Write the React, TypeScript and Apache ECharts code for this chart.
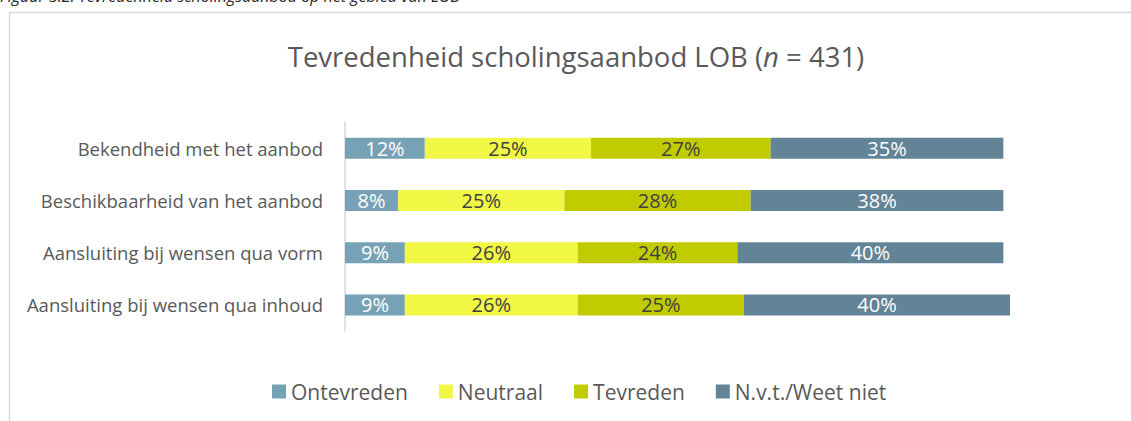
import React, { useEffect, useRef } from "react";
import * as echarts from "echarts";

const categories = [
  "Bekendheid met het aanbod",
  "Beschikbaarheid van het aanbod",
  "Aansluiting bij wensen qua vorm",
  "Aansluiting bij wensen qua inhoud",
];
const seriesNames = ["Ontevreden", "Neutraal", "Tevreden", "N.v.t./Weet niet"];
const ontevreden = [12, 8, 9, 9];
const neutraal = [25, 25, 26, 26];
const tevreden = [27, 28, 24, 25];
const nvt = [35, 38, 40, 40];
const seriesValues = [ontevreden, neutraal, tevreden, nvt];
const seriesColors = ["#77A2B5", "#F0F845", "#C1CC00", "#638497"];
const labelColors = ["#ffffff", "#404040", "#404040", "#ffffff"];

const FONT = "'Open Sans', 'Noto Sans', sans-serif";

export default function App() {
  const ref = useRef<HTMLDivElement>(null);
  useEffect(() => {
    if (!ref.current) return;
    const chart = echarts.init(ref.current, null, { renderer: "svg" });
    chart.setOption({
      animation: false,
      backgroundColor: "#ffffff",
      textStyle: { fontFamily: FONT },
      graphic: [
        {
          type: "rect",
          shape: { x: 9.5, y: 12.5, width: 1300, height: 600 },
          style: { fill: "none", stroke: "#d9d9d9", lineWidth: 1.5 },
          silent: true,
        },
        {
          type: "text",
          x: 0,
          y: 4,
          style: {
            text: "Figuur 3.2: Tevredenheid scholingsaanbod op het gebied van LOB",
            font: `italic 16px ${FONT}`,
            fill: "#262626",
            align: "left",
            verticalAlign: "bottom",
          },
        },
        {
          type: "text",
          x: 576,
          y: 56,
          style: {
            text: "{a|Tevredenheid scholingsaanbod LOB (}{i|n}{a| = 431)}",
            align: "center",
            verticalAlign: "middle",
            fill: "#595959",
            rich: {
              a: { fontSize: 27.5, fontFamily: FONT, fill: "#595959", color: "#595959" },
              i: { fontSize: 27.5, fontFamily: FONT, fontStyle: "italic", fill: "#595959", color: "#595959" },
            },
          },
        },
      ],
      legend: {
        data: seriesNames,
        left: 272,
        top: 381,
        padding: 0,
        itemWidth: 14,
        itemHeight: 14,
        itemGap: 31,
        icon: "rect",
        textStyle: { fontSize: 21, color: "#595959", fontFamily: FONT },
      },
      grid: { left: 345, right: 121, top: 122, height: 209, containLabel: false },
      xAxis: { type: "value", min: 0, max: 100, show: false },
      yAxis: {
        type: "category",
        data: categories,
        inverse: true,
        axisLine: { show: true, lineStyle: { color: "#d9d9d9", width: 1.5 } },
        axisTick: { show: false },
        axisLabel: { fontSize: 18.5, color: "#595959", margin: 22, fontFamily: FONT },
      },
      series: seriesNames.map((name, i) => ({
        name,
        type: "bar",
        stack: "total",
        data: seriesValues[i],
        barWidth: 21,
        itemStyle: { color: seriesColors[i] },
        label: {
          show: true,
          position: "inside",
          formatter: "{c}%",
          fontSize: 20,
          color: labelColors[i],
          fontFamily: FONT,
        },
      })),
    });
    return () => chart.dispose();
  }, []);
  return (
    <div
      ref={ref}
      style={{ position: "absolute", left: 0, top: 0, width: 1131, height: 421 }}
    />
  );
}
